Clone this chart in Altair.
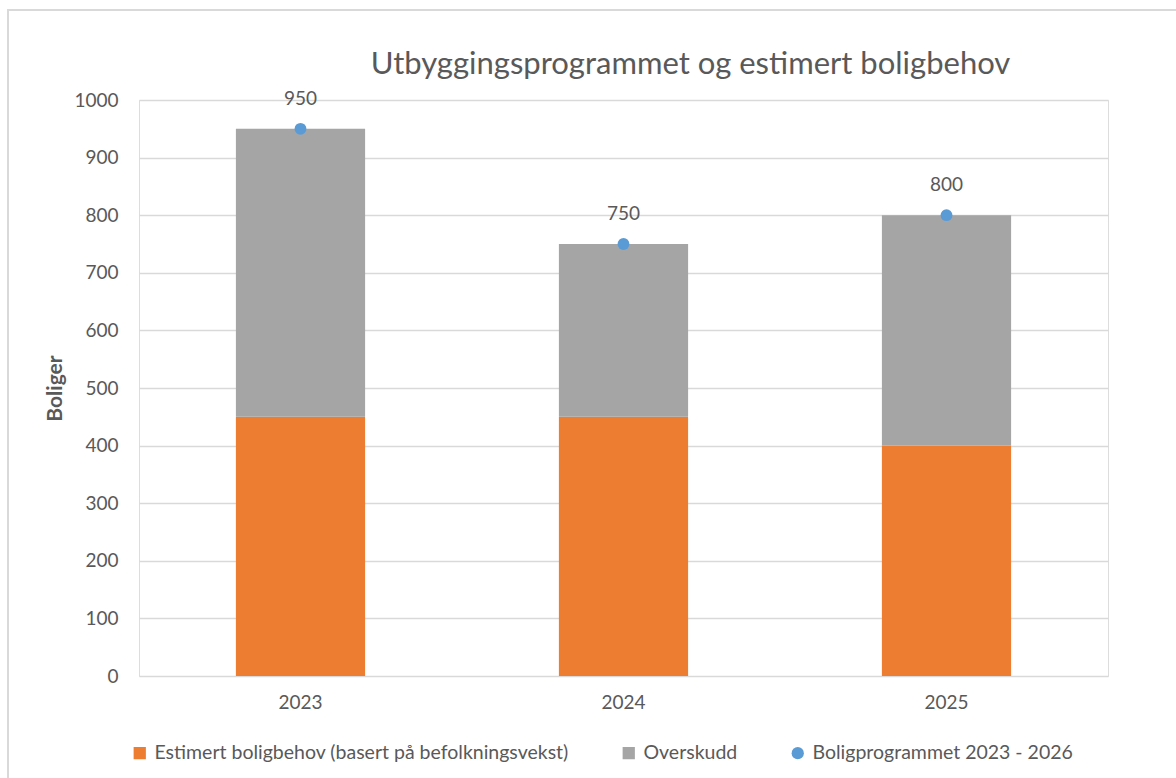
import altair as alt
import pandas as pd

years = ["2023", "2024", "2025"]
behov = [450, 450, 400]
overskudd = [500, 300, 400]
program = [950, 750, 800]

s_behov = "Estimert boligbehov (basert på befolkningsvekst)"
s_over = "Overskudd"
s_prog = "Boligprogrammet 2023 - 2026"
series_names = [s_behov, s_over, s_prog]
series_colors = ["#ed7d31", "#a5a5a5", "#5b9bd5"]
series_shapes = ["square", "square", "circle"]
y_ticks = [0, 100, 200, 300, 400, 500, 600, 700, 800, 900, 1000]

rows = []
for i, y in enumerate(years):
    rows.append({"year": y, "series": s_behov, "value": behov[i], "ord": 0})
    rows.append({"year": y, "series": s_over, "value": overskudd[i], "ord": 1})
bars_df = pd.DataFrame(rows)
prog_df = pd.DataFrame({"year": years, "value": program, "series": [s_prog] * 3})

FONT = "Lato"
TXT = "#595959"
TICK_FS = 19

color_scale = alt.Scale(domain=series_names, range=series_colors)
legend = alt.Legend(
    title=None, orient="none", direction="horizontal", legendX=-9, legendY=643,
    labelFont=FONT, labelFontSize=19.5, labelColor=TXT, symbolSize=150,
    symbolStrokeWidth=0, columnPadding=50, labelOffset=5, labelLimit=700,
)

x_enc = alt.X("year:N", title=None, sort=years,
              scale=alt.Scale(paddingInner=0.6, paddingOuter=0.3),
              axis=alt.Axis(labelAngle=0, ticks=False, domain=False, labelPadding=17,
                            labelFont=FONT, labelFontSize=TICK_FS, labelColor=TXT))

frame = alt.Chart(alt.Data(values=[{"a": 1}])).mark_rect(
    fill=None, stroke="#d9d9d9", strokeWidth=2
).encode(x=alt.value(-131), x2=alt.value(1047), y=alt.value(-90), y2=alt.value(700))

bars = alt.Chart(bars_df).mark_bar().encode(
    x=x_enc,
    y=alt.Y("value:Q", stack="zero",
            scale=alt.Scale(domain=[0, 1000], nice=False),
            axis=alt.Axis(values=y_ticks, format="d", title="Boliger", grid=True,
                          gridColor="#d9d9d9", gridWidth=1.5, domain=False, ticks=False,
                          labelPadding=21, labelFont=FONT, labelFontSize=TICK_FS,
                          labelColor=TXT, titleFont=FONT, titleFontSize=21,
                          titleFontWeight="bold", titleColor=TXT, titleAngle=-90,
                          titleX=-84, titleY=288, titleAlign="center",
                          titleBaseline="middle")),
    color=alt.Color("series:N", scale=color_scale, legend=legend),
    order=alt.Order("ord:Q"),
)

right_y = alt.Y("value:Q", scale=alt.Scale(domain=[0, 1000], nice=False),
                axis=alt.Axis(values=y_ticks, format="d", title=None, orient="right",
                              grid=False, domain=False, ticks=False, labelPadding=22,
                              labelFont=FONT, labelFontSize=TICK_FS, labelColor=TXT))

points = alt.Chart(prog_df).mark_point(filled=True, opacity=1, size=140).encode(
    x=alt.X("year:N", sort=years),
    y=right_y,
    color=alt.Color("series:N", scale=color_scale, legend=legend),
    shape=alt.Shape("series:N", scale=alt.Scale(domain=series_names, range=series_shapes),
                    legend=legend),
)

labels = alt.Chart(prog_df).mark_text(
    font=FONT, fontSize=TICK_FS, color=TXT, dy=-30, baseline="middle"
).encode(
    x=alt.X("year:N", sort=years),
    y=alt.Y("value:Q", scale=alt.Scale(domain=[0, 1000], nice=False), axis=None),
    text=alt.Text("value:Q"),
)

right = alt.layer(points, labels)

chart = alt.layer(frame, bars, right).resolve_scale(y="independent").properties(
    width=969, height=576,
    autosize=alt.AutoSizeParams(type="none"),
    padding={"left": 139, "top": 100, "right": 68, "bottom": 102},
    title=alt.TitleParams(
        "Utbyggingsprogrammet og estimert boligbehov", font=FONT, fontSize=31,
        fontWeight="normal", color=TXT, anchor="middle", frame="group", dx=67,
        dy=122, offset=26, baseline="alphabetic",
    ),
).configure_view(stroke=None).configure(background="white")

chart.save("out.html", embed_options={"renderer": "svg", "actions": False})
